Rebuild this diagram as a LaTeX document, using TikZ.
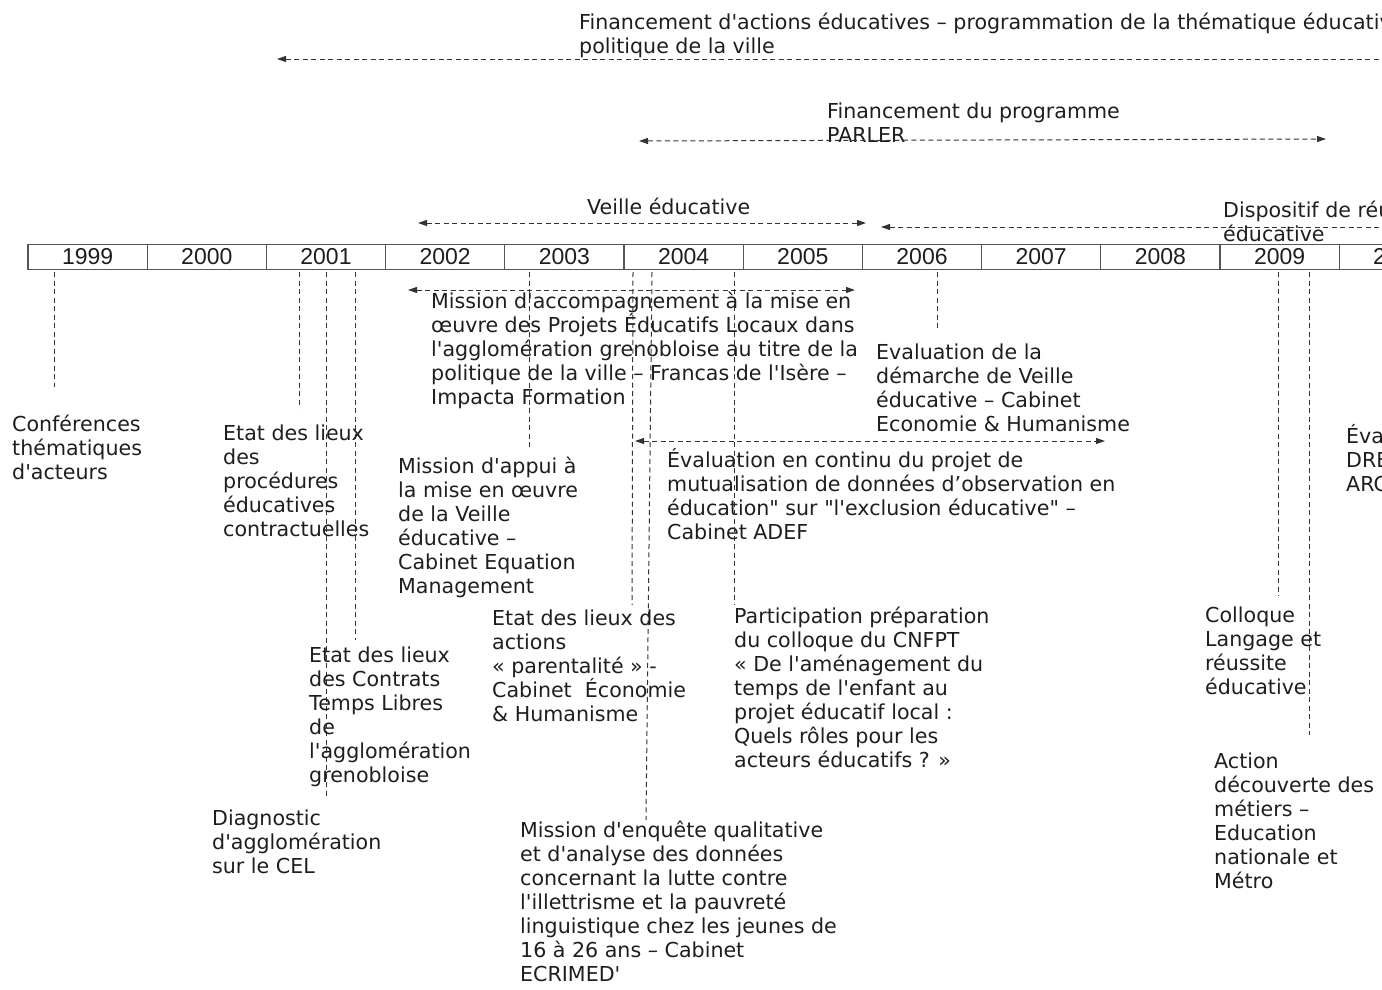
\documentclass[tikz,border=0pt]{standalone}
\usepackage{fontspec}
\usetikzlibrary{arrows.meta}

\newfontfamily\labelfam{DejaVu Sans}[Ligatures=TeXOff]
\newfontfamily\yearfam{Liberation Sans}

\definecolor{txtcol}{HTML}{1E1E1E}
\definecolor{dashcol}{HTML}{333333}
\definecolor{barcol}{HTML}{555555}

% base west = baseline of the last line of a label
\tikzset{
  lbl/.style={anchor=base west, inner sep=0pt, align=left, text=txtcol,
    font=\labelfam\fontsize{20.6}{24}\selectfont},
  yearcell/.style={draw=barcol, line width=1.2pt, minimum width=119.2pt,
    minimum height=25pt, inner sep=0pt, text=txtcol,
    font=\yearfam\fontsize{23}{25}\selectfont},
  tickline/.style={draw=dashcol, line width=1pt, dash pattern=on 5pt off 3.5pt},
  spanline/.style={tickline},
}

\begin{document}
\begin{tikzpicture}[x=1pt, y=-1pt, >={Triangle[length=9pt,width=6pt]}]

  % Bounding box of the scheme
  \useasboundingbox (0,0) rectangle (1382,989);

  %%%%%%%%%%%%%%%%%%%%%%%%%%%%%%%%% Frise des annees %%%%%%%%%%%%%%%%%%%%%%%%%%%%%%%%%%%%
  \foreach \yr [count=\k from 0] in {1999,2000,...,2010} {
    \node[yearcell] (y\yr) at ({28+119.2*(\k+0.5)},256.8) {\yr};
  }

  %%%%%%%%%%%%%%%%%%%%%%%%%%%%%%%%% Periodes au-dessus %%%%%%%%%%%%%%%%%%%%%%%%%%%%%%%%%%%
  \node[lbl] (fin) at (579,53) {Financement d'actions éducatives – programmation de la thématique éducative\\politique de la ville};
  \coordinate (finL) at (277,59);
  \coordinate (finR) at (1395,59);
  \draw[spanline, <-] (finL) -- (finR);

  \node[lbl] (parler) at (827,142) {Financement du programme\\PARLER};
  \coordinate (parL) at (639,141);
  \coordinate (parR) at (1326,139);
  \draw[spanline, <->] (parL) -- (parR);

  \node[lbl] (veille) at (587,214) {Veille éducative};
  \coordinate (veiL) at (418,223);
  \coordinate (veiR) at (866,223);
  \draw[spanline, <->] (veiL) -- (veiR);

  \node[lbl] (dispo) at (1223,241) {Dispositif de réussite\\éducative};
  \coordinate (disL) at (881,227);
  \coordinate (disR) at (1395,227);
  \draw[spanline, <-] (disL) -- (disR);

  %%%%%%%%%%%%%%%%%%%%%%%%%%%%%%%%% Periodes au-dessous %%%%%%%%%%%%%%%%%%%%%%%%%%%%%%%%%%
  \coordinate (accL) at (408,290);
  \coordinate (accR) at (855,290);
  \draw[spanline, <->] (accL) -- (accR);
  \node[lbl] (accomp) at (431,404) {Mission d'accompagnement à la mise en\\œuvre des Projets Éducatifs Locaux dans\\l'agglomération grenobloise au titre de la\\politique de la ville – Francas de l'Isère –\\Impacta Formation};

  \coordinate (conL) at (635,441);
  \coordinate (conR) at (1105,441);
  \draw[spanline, <->] (conL) -- (conR);
  \node[lbl] (continu) at (667,539) {Évaluation en continu du projet de\\mutualisation de données d’observation en\\éducation" sur "l'exclusion éducative" –\\Cabinet ADEF};

  %%%%%%%%%%%%%%%%%%%%%%%%%%%%%%%%% Evenements ponctuels %%%%%%%%%%%%%%%%%%%%%%%%%%%%%%%%%
  % Traits sous la frise
  \coordinate (t1a) at (54,272);    \coordinate (t1b) at (54,387);
  \coordinate (t2a) at (299,272);   \coordinate (t2b) at (299,408);
  \coordinate (t3a) at (326,272);   \coordinate (t3b) at (326,797);
  \coordinate (t4a) at (355,272);   \coordinate (t4b) at (355,640);
  \coordinate (t5a) at (529,272);   \coordinate (t5b) at (529,447);
  \coordinate (t6a) at (633,272);   \coordinate (t6b) at (632,605);
  \coordinate (t7a) at (652,272);   \coordinate (t7b) at (646,820);
  \coordinate (t8a) at (734,272);   \coordinate (t8b) at (734,605);
  \coordinate (t9a) at (937,272);   \coordinate (t9b) at (937,328);
  \coordinate (t10a) at (1278,272); \coordinate (t10b) at (1278,596);
  \coordinate (t11a) at (1309,272); \coordinate (t11b) at (1309,735);

  \foreach \i in {1,2,...,11} {
    \draw[tickline] (t\i a) -- (t\i b);
  }

  % Libelles
  \node[lbl] (conf) at (12,479) {Conférences\\thématiques\\d'acteurs};
  \node[lbl] (proc) at (223,536) {Etat des lieux\\des\\procédures\\éducatives\\contractuelles};
  \node[lbl] (diag) at (212,873) {Diagnostic\\d'agglomération\\sur le CEL};
  \node[lbl] (ctl) at (309,782) {Etat des lieux\\des Contrats\\Temps Libres\\de\\l'agglomération\\grenobloise};
  \node[lbl] (appui) at (398,593) {Mission d'appui à\\la mise en œuvre\\de la Veille\\éducative –\\Cabinet Equation\\Management};
  \node[lbl] (parent) at (492,721) {Etat des lieux des\\actions\\« parentalité » -\\Cabinet\ \ Économie\\\& Humanisme};
  \node[lbl] (enquete) at (520,981) {Mission d'enquête qualitative\\et d'analyse des données\\concernant la lutte contre\\l'illettrisme et la pauvreté\\linguistique chez les jeunes de\\16 à 26 ans – Cabinet\\ECRIMED'};
  \node[lbl] (cnfpt) at (734,767) {Participation préparation\\du colloque du CNFPT\\« De l'aménagement du\\temps de l'enfant au\\projet éducatif local :\\Quels rôles pour les\\acteurs éducatifs ? »};
  \node[lbl] (demarche) at (876,431) {Evaluation de la\\démarche de Veille\\éducative – Cabinet\\Economie \& Humanisme};
  \node[lbl] (colloque) at (1205,694) {Colloque\\Langage et\\réussite\\éducative};
  \node[lbl] (metiers) at (1214,888) {Action\\découverte des\\métiers –\\Education\\nationale et\\Métro};
  \node[lbl] (dre) at (1346,491) {Évaluation\\DRE\\ARC};

\end{tikzpicture}
\end{document}
